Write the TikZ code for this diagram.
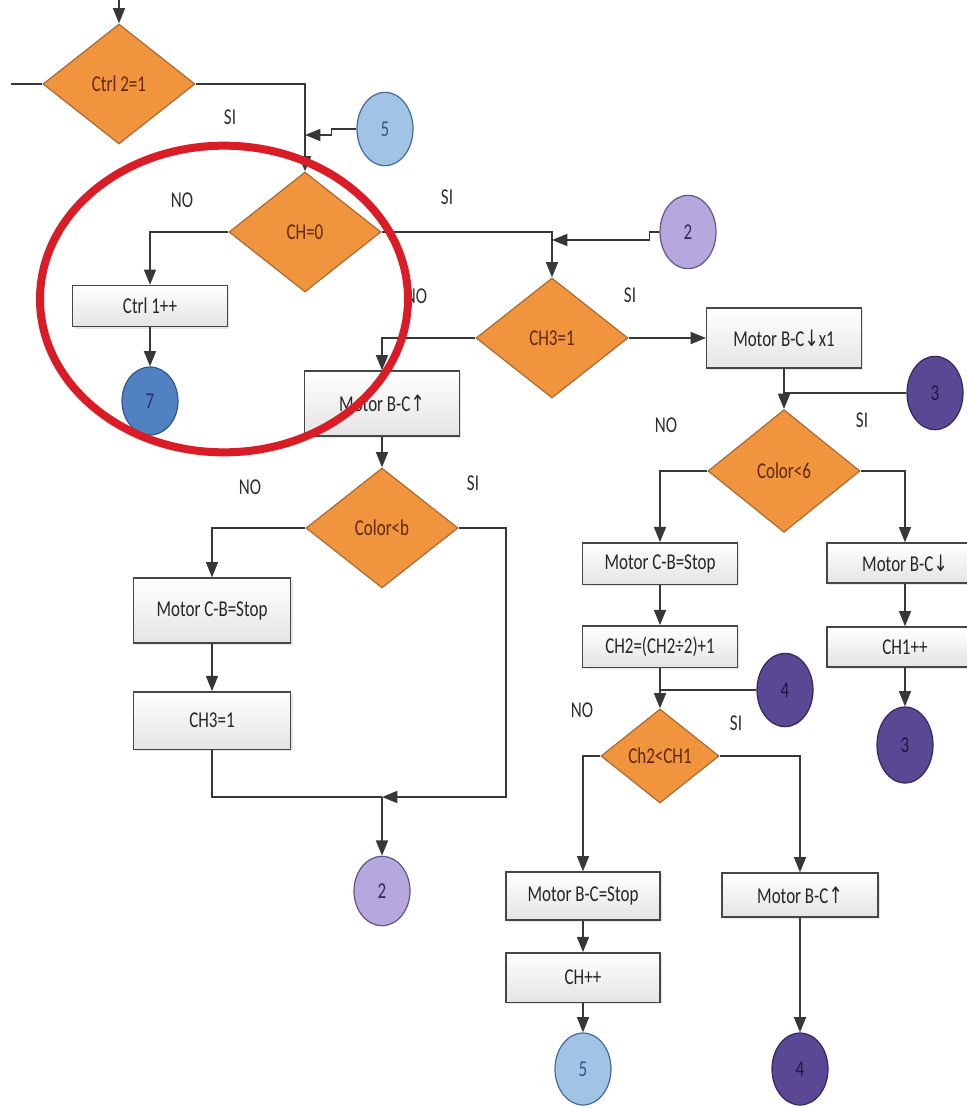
\documentclass[tikz,border=0pt]{standalone}
\usepackage{fontspec}
\setmainfont[FakeStretch=0.75]{Carlito}
\newfontfamily\arrowfont[FakeStretch=0.75]{DejaVu Sans}
\usetikzlibrary{shapes.geometric,arrows.meta,shadows}

\definecolor{decfill}{RGB}{241,148,62}
\definecolor{decborder}{RGB}{170,105,50}
\definecolor{dectext}{RGB}{95,40,10}
\definecolor{boxborder}{RGB}{70,70,70}
\definecolor{boxbottom}{RGB}{228,228,228}
\definecolor{boxtext}{RGB}{38,38,38}
\definecolor{linecol}{RGB}{55,55,55}
\definecolor{lblcol}{RGB}{45,45,45}
\definecolor{lightblue}{RGB}{160,195,230}
\definecolor{lightblueb}{RGB}{70,105,150}
\definecolor{midblue}{RGB}{80,130,195}
\definecolor{midblueb}{RGB}{50,85,140}
\definecolor{lilac}{RGB}{182,168,222}
\definecolor{lilacb}{RGB}{95,85,135}
\definecolor{plum}{RGB}{90,72,148}
\definecolor{plumb}{RGB}{50,40,95}
\definecolor{ringred}{RGB}{218,28,38}

\newcommand{\up}{{\arrowfont ↑}}
\newcommand{\down}{{\arrowfont ↓}}

\begin{document}
\begin{tikzpicture}[x=0.75pt,y=-0.75pt,
  font=\fontsize{17}{20}\selectfont,
  dec/.style={diamond, draw=decborder, fill=decfill, line width=0.9pt,
    inner sep=0pt, minimum width=114pt, minimum height=90pt, text=dectext},
  proc/.style={rectangle, draw=boxborder, line width=1pt, top color=white,
    bottom color=boxbottom, minimum width=116pt, inner sep=0pt, text=boxtext,
    drop shadow={shadow xshift=1.5pt, shadow yshift=-1.5pt, opacity=0.2}},
  conn/.style={ellipse, draw, line width=0.9pt, minimum width=42pt,
    minimum height=55pt, inner sep=0pt},
  flow/.style={draw=linecol, line width=1.3pt, -{Triangle[length=11.5pt,width=9pt]}},
  plain/.style={draw=linecol, line width=1.3pt},
  lbl/.style={text=lblcol}]

\useasboundingbox (0,0) rectangle (967,1108);
\clip (0,0) rectangle (967,1108);
\fill[white] (0,0) rectangle (967,1108);

% decisions
\node[dec] (ctrl2) at (119,84) {Ctrl 2=1};
\node[dec] (ch0) at (305,232) {CH=0};
\node[dec] (ch3) at (552,338) {CH3=1};
\node[dec] (colb) at (382,528) {Color<b};
\node[dec, minimum height=92pt] (col6) at (784,471) {Color<6};
\node[dec, minimum width=88.5pt, minimum height=70.5pt] (cmp) at (660,756) {Ch2<CH1};

% processes
\node[proc, minimum height=30.75pt] (ctrl1) at (150,306) {Ctrl 1++};
\node[proc, minimum height=48.75pt] (mbcu) at (382,403.5) {Motor B-C\up};
\node[proc, minimum width=118pt, minimum height=48.75pt] (mcbs1) at (212,610.5) {Motor C-B=Stop};
\node[proc, minimum width=118pt, minimum height=43pt] (ch3box) at (212,720.5) {CH3=1};
\node[proc, minimum height=45pt] (mbcx) at (784,338) {Motor B-C\down x1};
\node[proc, minimum height=31pt] (mcbs2) at (660,563.5) {Motor C-B=Stop};
\node[proc, minimum height=31pt] (ch2box) at (660,646.5) {CH2=(CH2÷2)+1};
\node[proc, minimum width=117pt, minimum height=30pt] (mbcd) at (905,563) {Motor B-C\down};
\node[proc, minimum width=117pt, minimum height=30pt] (ch1pp) at (905,647) {CH1++};
\node[proc, minimum width=115.5pt, minimum height=36pt] (mbcstop) at (583,896) {Motor B-C=Stop};
\node[proc, minimum width=115.5pt, minimum height=37pt] (chpp) at (583,977.5) {CH++};
\node[proc, minimum width=117pt, minimum height=33pt] (mbcu2) at (800,895) {Motor B-C\up};

% connectors (off-page references)
\node[conn, draw=lightblueb, fill=lightblue, text=midblueb] (c5a) at (385,129) {5};
\node[conn, draw=midblueb, fill=midblue, text=plumb, minimum height=51pt] (c7) at (150,401) {7};
\node[conn, draw=lilacb, fill=lilac, text=plumb] (c2a) at (688,232) {2};
\node[conn, draw=plumb, fill=plum, text=plumb!60!black] (c3a) at (935,393) {3};
\node[conn, draw=lilacb, fill=lilac, text=plumb, minimum height=52pt] (c2b) at (382,891) {2};
\node[conn, draw=plumb, fill=plum, text=plumb!60!black] (c4a) at (785,690) {4};
\node[conn, draw=plumb, fill=plum, text=plumb!60!black, minimum height=57pt] (c3b) at (905,745) {3};
\node[conn, draw=lightblueb, fill=lightblue, text=midblueb, minimum height=54pt] (c5b) at (583,1069) {5};
\node[conn, draw=plumb, fill=plum, text=plumb!60!black, minimum height=54pt] (c4b) at (800,1069) {4};

% junction points
\coordinate (topin) at (119,-10);
\coordinate (leftin) at (11,84);
\coordinate (j5) at (305,135);
\coordinate (j2) at (552,240);
\coordinate (j3) at (784,393);
\coordinate (j4) at (660,690);
\coordinate (j2b) at (382,797);
\coordinate (r1) at (506,797);

% flow lines
\draw[flow] (topin) -- (ctrl2.north);
\draw[plain] (leftin) -- (ctrl2.west);
\draw[flow] (ctrl2.east) -| (ch0.north);
\draw[flow] (c5a.west) -- ++(-25,0) |- (j5);
\draw[flow] (ch0.west) -| (ctrl1.north);
\draw[flow] (ctrl1.south) -- (c7.north);
\draw[flow] (ch0.east) -| (ch3.north);
\draw[flow] (c2a.west) -- ++(-10,0) |- (j2);
\draw[flow] (ch3.east) -- (mbcx.west);
\draw[flow] (mbcx.south) -- (col6.north);
\draw[plain] (c3a.west) -- (j3);
\draw[flow] (ch3.west) -| (mbcu.north);
\draw[flow] (mbcu.south) -- (colb.north);
\draw[flow] (colb.west) -| (mcbs1.north);
\draw[flow] (mcbs1.south) -- (ch3box.north);
\draw[plain] (ch3box.south) |- (j2b);
\draw[flow] (colb.east) -| (r1) -- (j2b);
\draw[flow] (j2b) -- (c2b.north);
\draw[flow] (col6.west) -| (mcbs2.north);
\draw[flow] (mcbs2.south) -- (ch2box.north);
\draw[flow] (ch2box.south) -- (cmp.north);
\draw[plain] (c4a.west) -- (j4);
\draw[flow] (col6.east) -| (mbcd.north);
\draw[flow] (mbcd.south) -- (ch1pp.north);
\draw[flow] (ch1pp.south) -- (c3b.north);
\draw[flow] (cmp.west) -| (mbcstop.north);
\draw[flow] (mbcstop.south) -- (chpp.north);
\draw[flow] (chpp.south) -- (c5b.north);
\draw[flow] (cmp.east) -| (mbcu2.north);
\draw[flow] (mbcu2.south) -- (c4b.north);

% branch labels
\node[lbl] (l1) at (230,117) {SI};
\node[lbl] (l2) at (182,200) {NO};
\node[lbl] (l3) at (447,197) {SI};
\node[lbl] (l4) at (416,296) {NO};
\node[lbl] (l5) at (630,295) {SI};
\node[lbl] (l6) at (666,425) {NO};
\node[lbl] (l7) at (862,420) {SI};
\node[lbl] (l8) at (250,487) {NO};
\node[lbl] (l9) at (473,483) {SI};
\node[lbl] (l10) at (582,710) {NO};
\node[lbl] (l11) at (736,723) {SI};

% highlight ring
\draw[ringred, line width=6pt] (224,299) ellipse [x radius=138pt, y radius=115pt];
\end{tikzpicture}
\end{document}
